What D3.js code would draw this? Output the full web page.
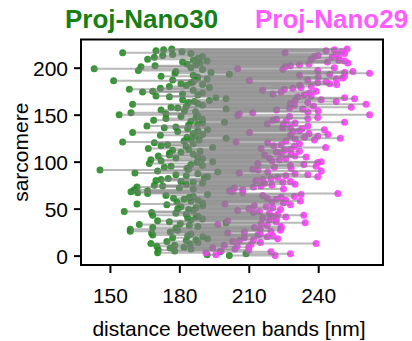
<!DOCTYPE html>
<html>
<head>
<meta charset="utf-8">
<script src="https://cdn.jsdelivr.net/npm/d3@7"></script>
<style>
  html, body { margin: 0; padding: 0; background: #fff; }
  svg { display: block; }
</style>
</head>
<body>
<div id="chart"></div>
<script>
// Dumbbell plot: band distance per sarcomere, Proj-Nano30 (green) vs Proj-Nano29 (magenta)
// values, index = sarcomere number (0..220)

const seriesNames = ['Proj-Nano30', 'Proj-Nano29'];

const nano30 = [
  201.6, 192, 208.8, 170.6, 197.7, 178, 170.9, 185, 176, 182,
  170.3, 178, 184.7, 167.7, 188, 174.6, 183, 187.2, 192.2, 177.1,
  190.1, 183.6, 168.5, 185, 168.0, 176.1, 158.8, 179.3, 158.8, 178.5,
  168.5, 188, 184.3, 162.7, 180.4, 200.2, 175.7, 170.6, 185, 190,
  183.6, 187.2, 188, 168.5, 183, 178.5, 168.0, 156.2, 186, 184,
  179.3, 187.2, 180.7, 190.1, 174.6, 161.7, 190, 179, 185, 188,
  182, 177.5, 184.3, 186, 174.2, 192.2, 166.3, 162.0, 159.1, 166.3,
  160.5, 186, 180.0, 161.7, 172.8, 169.2, 183, 190, 186, 180.7,
  169.9, 172.1, 175.2, 190.8, 192.2, 183, 178.5, 188, 160.8, 196.6,
  170.6, 145.7, 184, 183.3, 173.5, 176.4, 190, 185, 167.0, 187.6,
  194.4, 172.1, 167.7, 190, 178.5, 187.9, 170.9, 175.7, 186, 175.7,
  180.7, 189, 177.1, 184, 166.6, 194.4, 182.9, 172.1, 174.9, 186,
  169.2, 155.5, 182, 188.6, 185, 200.2, 183.3, 187, 171.8, 190,
  186, 159.8, 179.3, 188, 192.2, 183.6, 173.5, 178.5, 166.0, 184,
  187.9, 190, 199.5, 185, 168.9, 190, 174.2, 187.2, 180.7, 187.9,
  154.0, 174.2, 159.1, 187, 182.2, 172.1, 200.2, 179.3, 176.4, 183,
  190, 159.8, 188, 184, 186.5, 193, 181.4, 200.2, 195.8, 175.7,
  169.9, 188, 181.4, 190, 164.1, 168.5, 186, 158.4, 171.8, 193,
  175.7, 183, 190, 180.7, 185, 186, 151.6, 177.1, 192, 187.9,
  187.9, 172.1, 186, 201.6, 178.1, 193.7, 178.5, 162.3, 190, 143.2,
  185, 163.4, 169.5, 187.2, 183.3, 189, 181.4, 192, 186, 166.3,
  188, 169.2, 190, 172.8, 177.1, 185, 155.5, 181.1, 169.9, 173.2,
  176.7
];

const nano29 = [
  221.4, 195.8, 228.0, 191.5, 219.6, 198.0, 210, 204, 194.4, 210,
  205, 199.4, 211.0, 239.1, 215.0, 203.1, 206, 212, 222.5, 208.1,
  218, 220.4, 213.9, 215, 200.9, 208.1, 219.6, 223.7, 215, 224.0,
  212.4, 224, 218, 196.6, 215.3, 234.4, 221.8, 200.9, 218.9, 222,
  216, 226, 220, 233.8, 222.5, 218.9, 212, 214.6, 205.2, 223.7,
  210, 220.4, 217.5, 212.4, 228.0, 199.7, 225, 220, 232.3, 226,
  222, 218, 224.0, 229.7, 216.0, 232.6, 248.5, 207.4, 203.1, 201.6,
  207.4, 225, 203.8, 212, 215.3, 220, 230, 216.8, 224.7, 228,
  213.1, 216.0, 219.6, 222.5, 239.8, 226, 235.5, 230, 205.9, 218.2,
  241.3, 214, 211.7, 228.3, 221.1, 239.1, 228, 233.8, 213.9, 239.8,
  241.3, 220, 223.2, 226, 218.9, 234.8, 230, 216.8, 228.3, 224,
  222, 231.9, 225.4, 228, 215.3, 243.2, 229.7, 220.8, 224.0, 231.9,
  218.2, 204.5, 226, 238.4, 230, 249.6, 234.1, 239.8, 228, 244.2,
  236, 210.3, 229.0, 231.9, 242.7, 233, 224.7, 228, 235.5, 225,
  218, 230, 251.4, 226.1, 220.4, 222, 235.5, 239.8, 227.6, 205.2,
  262.2, 205.9, 211.7, 235.5, 240, 222, 233.3, 227.6, 254.3, 238,
  229.7, 260.7, 228, 235.5, 247.8, 230, 241.3, 255.7, 251.4, 231.2,
  237.0, 234, 220.4, 236.2, 224.0, 239.1, 216.0, 225.4, 229.0, 232.6,
  237.0, 232, 248, 245, 239.8, 243.4, 210.3, 235.5, 247.8, 250.6,
  240, 251.4, 231.9, 245, 262.2, 251.4, 255.0, 239.8, 224.7, 205.2,
  247.0, 225.7, 228, 231.9, 236, 252.8, 244, 251.4, 248.9, 237.0,
  249, 246, 238.4, 240, 247.8, 251.4, 225.7, 250, 243.4, 247.0,
  252.5
];

const xTicks = [150, 180, 210, 240];
const yTicks = [0, 50, 100, 150, 200];

const W = 412, H = 341;
const FONT = 'Liberation Sans, Arial, Helvetica, sans-serif';
const GREEN = '#228b22', MAGENTA = '#ff3dff';

const rows = nano30.map((g, i) => ({ s: i, a: g, b: nano29[i] }));

const svg = d3.select('#chart').append('svg')
  .attr('width', W).attr('height', H)
  .attr('viewBox', `0 0 ${W} ${H}`);

const plot = { left: 81, right: 383, top: 39.5, bottom: 265 };

const x = d3.scaleLinear().domain([137.5, 268]).range([plot.left, plot.right]);
const y = d3.scaleLinear().domain([-10, 230]).range([plot.bottom, plot.top]);

// ---- titles as legend ----
svg.append('text')
  .attr('x', 65).attr('y', 28)
  .attr('font-family', FONT).attr('font-size', 26).attr('font-weight', 700)
  .attr('fill', '#168016')
  .text(seriesNames[0]);
svg.append('text')
  .attr('x', 255).attr('y', 28)
  .attr('font-family', FONT).attr('font-size', 26).attr('font-weight', 700)
  .attr('fill', '#ff5cff')
  .text(seriesNames[1]);

svg.append('clipPath').attr('id', 'clip')
  .append('rect')
  .attr('x', plot.left).attr('y', plot.top)
  .attr('width', plot.right - plot.left).attr('height', plot.bottom - plot.top);

const g = svg.append('g').attr('clip-path', 'url(#clip)');

// dots go under the connectors (that's why the ones inside the band look greyed)
g.append('g').selectAll('circle')
  .data(rows).join('circle')
  .attr('cx', d => x(d.a)).attr('cy', d => y(d.s))
  .attr('r', 3.5)
  .attr('fill', GREEN).attr('fill-opacity', 0.9);

g.append('g').selectAll('circle')
  .data(rows).join('circle')
  .attr('cx', d => x(d.b)).attr('cy', d => y(d.s))
  .attr('r', 3.5)
  .attr('fill', MAGENTA).attr('fill-opacity', 0.9);

g.append('g').selectAll('line')
  .data(rows).join('line')
  .attr('x1', d => x(d.a)).attr('x2', d => x(d.b))
  .attr('y1', d => y(d.s)).attr('y2', d => y(d.s))
  .attr('stroke', '#808080')
  .attr('stroke-opacity', 0.55)
  .attr('stroke-width', 2);

// ---- axes ----
const xAxis = svg.append('g')
  .attr('transform', `translate(0,${plot.bottom})`)
  .call(d3.axisBottom(x).tickValues(xTicks).tickSize(8).tickPadding(15).tickSizeOuter(0));
const yAxis = svg.append('g')
  .attr('transform', `translate(${plot.left},0)`)
  .call(d3.axisLeft(y).tickValues(yTicks).tickSize(7).tickPadding(6).tickSizeOuter(0));

[xAxis, yAxis].forEach(ax => {
  ax.select('.domain').remove();
  ax.selectAll('line').attr('stroke', '#000').attr('stroke-width', 2);
  ax.selectAll('text')
    .attr('font-family', FONT).attr('font-size', 21).attr('fill', '#000');
});
yAxis.selectAll('text').attr('dy', '0.36em');

// frame
svg.append('rect')
  .attr('x', plot.left).attr('y', plot.top)
  .attr('width', plot.right - plot.left).attr('height', plot.bottom - plot.top)
  .attr('fill', 'none').attr('stroke', '#000').attr('stroke-width', 2);

// axis labels
svg.append('text')
  .attr('x', (plot.left + plot.right) / 2 - 3).attr('y', 336)
  .attr('text-anchor', 'middle')
  .attr('font-family', FONT).attr('font-size', 21)
  .text('distance between bands [nm]');
svg.append('text')
  .attr('transform', `translate(28,${(plot.top + plot.bottom) / 2}) rotate(-90)`)
  .attr('text-anchor', 'middle')
  .attr('font-family', FONT).attr('font-size', 21)
  .text('sarcomere');
</script>
</body>
</html>
